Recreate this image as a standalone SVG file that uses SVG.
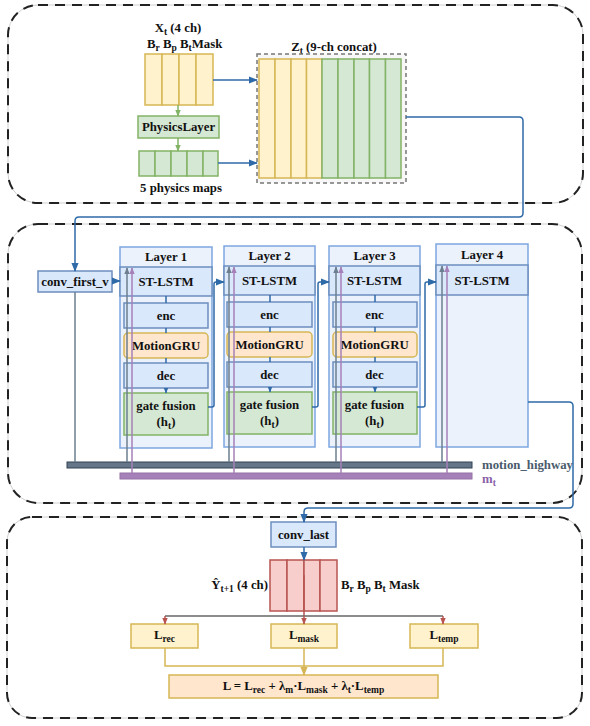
<svg xmlns="http://www.w3.org/2000/svg" width="590" height="726" viewBox="0 0 590 726">
<defs>
<style>
text{font-family:"Liberation Serif","Times New Roman",serif;font-weight:bold;font-size:12.8px;fill:#111;}
.c{text-anchor:middle;}
.s{font-size:9.5px;}
.cont{fill:none;stroke:#cfcfcf;stroke-width:1;}
.dash{fill:none;stroke:#222;stroke-width:2;stroke-dasharray:10 7;}
.yel{fill:#fff2cc;stroke:#d6b656;stroke-width:1.5;}
.grn{fill:#d5e8d4;stroke:#82b366;stroke-width:1.5;}
.blu{fill:#dae8fc;stroke:#6c8ebf;stroke-width:1.5;}
.lay{fill:#ebf2fc;stroke:#7ea6e0;stroke-width:1.5;}
.org{fill:#ffe6cc;stroke:#d6b656;stroke-width:1.5;}
.red{fill:#f8cecc;stroke:#b85450;stroke-width:1.5;}
.conn{fill:none;stroke:#2f6aa8;stroke-width:1.5;}
.gconn{fill:none;stroke:#82b366;stroke-width:1.5;}
.gray{fill:none;stroke:#6d7f8f;stroke-width:1.5;}
.pur{fill:none;stroke:#a680b8;stroke-width:1.5;}
.yl{fill:none;stroke:#d6b656;stroke-width:1.5;}
.rl{fill:none;stroke:#b85450;stroke-width:1.5;}
</style>
<marker id="ab" viewBox="0 0 10 10" refX="9" refY="5" markerWidth="9" markerHeight="9" orient="auto" markerUnits="userSpaceOnUse"><path d="M0,1 L10,5 L0,9 z" fill="#2f6aa8"/></marker>
<marker id="abs" viewBox="0 0 10 10" refX="9" refY="5" markerWidth="6" markerHeight="6" orient="auto" markerUnits="userSpaceOnUse"><path d="M0,1 L10,5 L0,9 z" fill="#2f6aa8"/></marker>
<marker id="ag" viewBox="0 0 10 10" refX="9" refY="5" markerWidth="7" markerHeight="7" orient="auto" markerUnits="userSpaceOnUse"><path d="M0,1 L10,5 L0,9 z" fill="#82b366"/></marker>
<marker id="agr" viewBox="0 0 10 10" refX="9" refY="5" markerWidth="7" markerHeight="7" orient="auto" markerUnits="userSpaceOnUse"><path d="M0,1 L10,5 L0,9 z" fill="#6d7f8f"/></marker>
<marker id="ap" viewBox="0 0 10 10" refX="9" refY="5" markerWidth="7" markerHeight="7" orient="auto" markerUnits="userSpaceOnUse"><path d="M0,1 L10,5 L0,9 z" fill="#a680b8"/></marker>
<marker id="ar" viewBox="0 0 10 10" refX="9" refY="5" markerWidth="7" markerHeight="7" orient="auto" markerUnits="userSpaceOnUse"><path d="M0,1 L10,5 L0,9 z" fill="#b85450"/></marker>
<marker id="ay" viewBox="0 0 10 10" refX="9" refY="5" markerWidth="9" markerHeight="9" orient="auto" markerUnits="userSpaceOnUse"><path d="M0,1 L10,5 L0,9 z" fill="#d6b656"/></marker>
</defs>
<rect width="590" height="726" fill="#ffffff"/>

<!-- containers -->
<g id="container-input">
<rect class="cont" x="8" y="5" width="575" height="198" rx="30"/>
<rect class="dash" x="8" y="5" width="575" height="198" rx="30"/>
</g>
<g id="container-core">
<rect class="cont" x="8" y="224" width="574" height="279" rx="30"/>
<rect class="dash" x="8" y="224" width="574" height="279" rx="30"/>
</g>
<g id="container-output">
<rect class="cont" x="7" y="517" width="575" height="201" rx="25"/>
<rect class="dash" x="7" y="517" width="575" height="201" rx="25"/>
</g>

<!-- top section nodes -->
<g id="xt">
<text class="c" x="178" y="32">X<tspan dy="3" class="s">t</tspan><tspan dy="-3"> (4 ch)</tspan></text>
<text x="147" y="48">B<tspan dy="3" class="s">r</tspan><tspan dy="-3"> B</tspan><tspan dy="3" class="s">p</tspan><tspan dy="-3"> B</tspan><tspan dy="3" class="s">t</tspan><tspan dy="-3">Mask</tspan></text>
<rect class="yel" x="145" y="54" width="17" height="51"/>
<rect class="yel" x="162" y="54" width="17" height="51"/>
<rect class="yel" x="179" y="54" width="17" height="51"/>
<rect class="yel" x="196" y="54" width="17" height="51"/>
</g>
<g id="physics-layer">
<rect class="grn" x="138" y="116" width="81" height="22"/>
<text class="c" x="178.5" y="131">PhysicsLayer</text>
</g>
<g id="physics-maps">
<rect class="grn" x="139" y="151" width="16" height="25"/>
<rect class="grn" x="155" y="151" width="16" height="25"/>
<rect class="grn" x="171" y="151" width="16" height="25"/>
<rect class="grn" x="187" y="151" width="16" height="25"/>
<rect class="grn" x="203" y="151" width="15" height="25"/>
<text class="c" x="181" y="192">5 physics maps</text>
</g>
<g id="zt">
<text class="c" x="334" y="51">Z<tspan dy="3" class="s">t</tspan><tspan dy="-3"> (9-ch concat)</tspan></text>
<rect x="257" y="54" width="149" height="129" fill="#f7f7f7" stroke="#777" stroke-width="1.5" stroke-dasharray="4 3"/>
<rect class="yel" x="259" y="59" width="16" height="119"/>
<rect class="yel" x="275" y="59" width="16" height="119"/>
<rect class="yel" x="291" y="59" width="15.5" height="119"/>
<rect class="yel" x="306.5" y="59" width="15.5" height="119"/>
<rect class="grn" x="322" y="59" width="16" height="119"/>
<rect class="grn" x="338" y="59" width="16" height="119"/>
<rect class="grn" x="354" y="59" width="15.5" height="119"/>
<rect class="grn" x="369.5" y="59" width="16" height="119"/>
<rect class="grn" x="385.5" y="59" width="15.5" height="119"/>
</g>

<!-- middle section nodes -->
<g id="conv-first-v">
<rect class="blu" x="38" y="271" width="74" height="21"/>
<text class="c" x="75" y="285.5">conv_first_v</text>
</g>

<g id="layer1">
<rect class="lay" x="120" y="247" width="92" height="201"/>
<text class="c" x="166" y="261">Layer 1</text>
<rect class="blu" x="120" y="267" width="92" height="29"/>
<text class="c" x="166" y="286" font-size="13.5">ST-LSTM</text>
<rect class="blu" x="124" y="303" width="84" height="25"/>
<text class="c" x="166" y="320">enc</text>
<rect class="org" x="124" y="333" width="84" height="25" rx="4"/>
<text class="c" x="166" y="350">MotionGRU</text>
<rect class="blu" x="124" y="363" width="84" height="25"/>
<text class="c" x="166" y="380">dec</text>
<rect class="grn" x="124" y="393" width="84" height="42"/>
<text class="c" x="166" y="410">gate fusion</text>
<text class="c" x="166" y="426">(h<tspan dy="3" class="s">t</tspan><tspan dy="-3">)</tspan></text>
</g>

<g id="layer2">
<rect class="lay" x="224" y="246" width="91" height="201"/>
<text class="c" x="269.5" y="260">Layer 2</text>
<rect class="blu" x="224" y="266" width="91" height="29"/>
<text class="c" x="269.5" y="285" font-size="13.5">ST-LSTM</text>
<rect class="blu" x="227" y="302" width="85" height="25"/>
<text class="c" x="269.5" y="319">enc</text>
<rect class="org" x="227" y="332" width="85" height="25" rx="4"/>
<text class="c" x="269.5" y="349">MotionGRU</text>
<rect class="blu" x="227" y="362" width="85" height="25"/>
<text class="c" x="269.5" y="379">dec</text>
<rect class="grn" x="227" y="392" width="85" height="42"/>
<text class="c" x="269.5" y="409">gate fusion</text>
<text class="c" x="269.5" y="425">(h<tspan dy="3" class="s">t</tspan><tspan dy="-3">)</tspan></text>
</g>

<g id="layer3">
<rect class="lay" x="329" y="246" width="91" height="201"/>
<text class="c" x="374.5" y="260">Layer 3</text>
<rect class="blu" x="329" y="266" width="91" height="29"/>
<text class="c" x="374.5" y="285" font-size="13.5">ST-LSTM</text>
<rect class="blu" x="333" y="302" width="84" height="25"/>
<text class="c" x="374.5" y="319">enc</text>
<rect class="org" x="333" y="332" width="84" height="25" rx="4"/>
<text class="c" x="374.5" y="349">MotionGRU</text>
<rect class="blu" x="333" y="362" width="84" height="25"/>
<text class="c" x="374.5" y="379">dec</text>
<rect class="grn" x="333" y="392" width="84" height="42"/>
<text class="c" x="374.5" y="409">gate fusion</text>
<text class="c" x="374.5" y="425">(h<tspan dy="3" class="s">t</tspan><tspan dy="-3">)</tspan></text>
</g>

<g id="layer4">
<rect class="lay" x="436" y="244" width="92" height="203"/>
<text class="c" x="482" y="259">Layer 4</text>
<rect class="blu" x="436" y="265" width="92" height="30"/>
<text class="c" x="482" y="285" font-size="13.5">ST-LSTM</text>
</g>

<g id="motion-highway">
<rect x="67" y="462" width="405" height="6" fill="#647687" stroke="#314354" stroke-width="1"/>
<text x="482" y="468.5" style="fill:#4a5b6c">motion_highway</text>
</g>
<g id="mt">
<rect x="120" y="473" width="352" height="6" fill="#a680b8" stroke="#9673a6" stroke-width="1"/>
<text x="482" y="483" style="fill:#8a5fa8">m<tspan dy="3" class="s">t</tspan></text>
</g>

<!-- bottom section nodes -->
<g id="conv-last">
<rect class="blu" x="271" y="522" width="65" height="25"/>
<text class="c" x="303.5" y="539">conv_last</text>
</g>
<g id="yhat">
<text x="268" y="589" style="text-anchor:end">Ŷ<tspan dy="3" class="s">t+1</tspan><tspan dy="-3"> (4 ch)</tspan></text>
<rect class="red" x="270" y="560" width="17" height="51"/>
<rect class="red" x="287" y="560" width="17" height="51"/>
<rect class="red" x="304" y="560" width="16" height="51"/>
<rect class="red" x="320" y="560" width="17" height="51"/>
<text x="341" y="589">B<tspan dy="3" class="s">r</tspan><tspan dy="-3"> B</tspan><tspan dy="3" class="s">p</tspan><tspan dy="-3"> B</tspan><tspan dy="3" class="s">t</tspan><tspan dy="-3"> Mask</tspan></text>
</g>
<g id="l-rec">
<rect class="yel" x="131" y="624" width="67" height="24"/>
<text class="c" x="164.5" y="639" font-size="14">L<tspan dy="3" class="s">rec</tspan></text>
</g>
<g id="l-mask">
<rect class="yel" x="271" y="624" width="66" height="24"/>
<text class="c" x="304" y="639" font-size="14">L<tspan dy="3" class="s">mask</tspan></text>
</g>
<g id="l-temp">
<rect class="yel" x="410" y="624" width="68" height="24"/>
<text class="c" x="444" y="639" font-size="14">L<tspan dy="3" class="s">temp</tspan></text>
</g>
<g id="l-total">
<rect class="org" x="169" y="675" width="269" height="23"/>
<text class="c" x="303.5" y="690" font-size="13.5">L = L<tspan dy="3" class="s">rec</tspan><tspan dy="-3"> + λ</tspan><tspan dy="3" class="s">m</tspan><tspan dy="-3">·L</tspan><tspan dy="3" class="s">mask</tspan><tspan dy="-3"> + λ</tspan><tspan dy="3" class="s">t</tspan><tspan dy="-3">·L</tspan><tspan dy="3" class="s">temp</tspan></text>
</g>

<!-- connectors -->
<g id="connectors">
<path class="conn" d="M213,80 H257" marker-end="url(#ab)"/>
<path class="conn" d="M218,163 H257" marker-end="url(#ab)"/>
<path class="gconn" d="M178,105 V116" marker-end="url(#ag)"/>
<path class="gconn" d="M178,138 V151" marker-end="url(#ag)"/>
<path class="conn" d="M406,117 H519 Q523,117 523,121 V213 Q523,217 519,217 H79 Q75,217 75,221 V271" marker-end="url(#ab)"/>
<path class="conn" d="M112,281 H120" marker-end="url(#ab)"/>
<path class="conn" d="M166,296 V303 M166,328 V333 M166,358 V363 M166,388 V393" marker-end="url(#abs)"/>
<path class="conn" d="M208,407 H212 Q214,407 214,405 V284 Q214,282 216,282 H224" marker-end="url(#ab)"/>
<path class="conn" d="M312,407 H316 Q318,407 318,405 V284 Q318,282 320,282 H329" marker-end="url(#ab)"/>
<path class="conn" d="M417,407 H423 Q425,407 425,405 V284 Q425,282 427,282 H436" marker-end="url(#ab)"/>
<path class="conn" d="M270,295 V302 M270,327 V332 M270,357 V362 M270,387 V392" marker-end="url(#abs)"/>
<path class="conn" d="M375,295 V302 M375,327 V332 M375,357 V362 M375,387 V392" marker-end="url(#abs)"/>
<path class="conn" d="M528,402 H569 Q573,402 573,406 V504 Q573,508 569,508 H308 Q304,508 304,512 V522" marker-end="url(#ab)"/>
<path class="gray" d="M75,292 V462"/>
<path class="gray" d="M127,462 V268" marker-end="url(#agr)"/>
<path class="pur" d="M132,473 V268" marker-end="url(#ap)"/>
<path class="gray" d="M229,462 V267" marker-end="url(#agr)"/>
<path class="pur" d="M234,473 V267" marker-end="url(#ap)"/>
<path class="gray" d="M336,462 V267" marker-end="url(#agr)"/>
<path class="pur" d="M341,473 V267" marker-end="url(#ap)"/>
<path class="gray" d="M442,462 V266" marker-end="url(#agr)"/>
<path class="pur" d="M447,473 V266" marker-end="url(#ap)"/>
<path class="conn" d="M304,547 V560" marker-end="url(#ab)"/>
<path class="rl" d="M304,575 V616"/>
<path d="M165,616 H443" fill="none" stroke="#666" stroke-width="1.5"/>
<path class="rl" d="M165,616 V624" marker-end="url(#ar)"/>
<path class="rl" d="M304,616 V624" marker-end="url(#ar)"/>
<path class="rl" d="M443,616 V624" marker-end="url(#ar)"/>
<path class="yl" d="M165,648 V666 H443 V648"/>
<path class="yl" d="M304,648 V675" marker-end="url(#ay)"/>
</g>
</svg>
